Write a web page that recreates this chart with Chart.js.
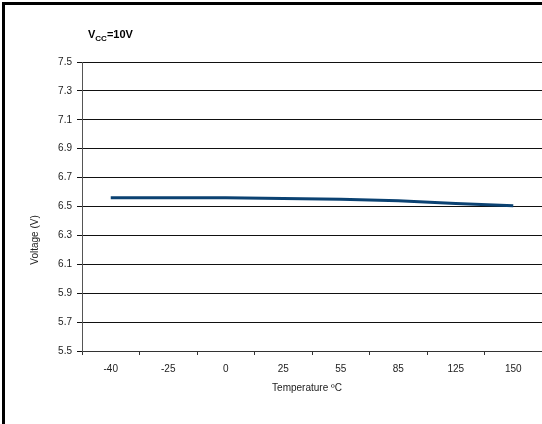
<!DOCTYPE html>
<html>
<head>
<meta charset="utf-8">
<script src="https://cdn.jsdelivr.net/npm/chart.js@4"></script>
<style>
  html, body { margin: 0; padding: 0; background: #fff; }
  #wrap { width: 542px; height: 424px; position: relative; }
</style>
</head>
<body>
<div id="wrap"><canvas id="chart" width="542" height="424"></canvas></div>
<script>
const temperatures = ["-40", "-25", "0", "25", "55", "85", "125", "150"];
const voltages = [6.56, 6.56, 6.56, 6.555, 6.55, 6.54, 6.52, 6.505];
const yTicks = [5.5, 5.7, 5.9, 6.1, 6.3, 6.5, 6.7, 6.9, 7.1, 7.3, 7.5];

const font = "Liberation Sans, Arial, sans-serif";

// frame, title with subscript and axis titles
const decorations = {
    id: "decorations",
    beforeDraw(chart) {
        const ctx = chart.ctx;
        ctx.save();
        ctx.fillStyle = "#fff";
        ctx.fillRect(0, 0, chart.width, chart.height);
        ctx.fillStyle = "#000";
        ctx.fillRect(2, 2, chart.width - 2, 3);
        ctx.fillRect(2, 2, 3, chart.height - 2);
        ctx.restore();
    },
    afterDraw(chart) {
        const ctx = chart.ctx;
        const area = chart.chartArea;
        ctx.save();
        ctx.fillStyle = "#000";
        ctx.textBaseline = "alphabetic";
        let x = 88;
        ctx.font = "bold 11px " + font;
        ctx.fillText("V", x, 38);
        x += ctx.measureText("V").width;
        ctx.font = "bold 8px " + font;
        ctx.fillText("CC", x, 41);
        x += ctx.measureText("CC").width;
        ctx.font = "bold 11px " + font;
        ctx.fillText("=10V", x, 38);

        ctx.font = "10px " + font;
        ctx.fillStyle = "#222";
        ctx.textAlign = "center";
        ctx.textBaseline = "middle";
        ctx.fillText("Temperature ºC", (area.left + area.right) / 2 - 5, 388);
        ctx.translate(35, 240);
        ctx.rotate(-Math.PI / 2);
        ctx.fillText("Voltage (V)", 0, 0);
        ctx.restore();
    }
};

new Chart(document.getElementById("chart"), {
    type: "line",
    data: {
        labels: temperatures,
        datasets: [{
            data: voltages,
            borderColor: "#0b4272",
            borderWidth: 3,
            pointRadius: 0,
            tension: 0,
            fill: false
        }]
    },
    options: {
        responsive: false,
        animation: false,
        layout: { padding: { top: 62, right: 0, left: 0, bottom: 0 } },
        plugins: {
            legend: { display: false },
            tooltip: { enabled: false }
        },
        scales: {
            x: {
                offset: true,
                grid: {
                    offset: true,
                    drawOnChartArea: false,
                    drawTicks: true,
                    tickLength: 4,
                    color: "#333"
                },
                border: { color: "#333", width: 1 },
                ticks: {
                    color: "#222",
                    font: { family: font, size: 10 },
                    padding: 8,
                    maxRotation: 0
                },
                afterFit(scale) { scale.height = 73; }
            },
            y: {
                min: 5.5,
                max: 7.5,
                afterBuildTicks(scale) {
                    scale.ticks = yTicks.map(v => ({ value: v }));
                },
                grid: {
                    color: "#111",
                    lineWidth: 1,
                    drawTicks: true,
                    tickLength: 5
                },
                border: { color: "#555", width: 1 },
                ticks: {
                    color: "#222",
                    font: { family: font, size: 10 },
                    padding: 5,
                    callback: v => v.toFixed(1)
                },
                afterFit(scale) { scale.width = 82; }
            }
        }
    },
    plugins: [decorations]
});
</script>
</body>
</html>
